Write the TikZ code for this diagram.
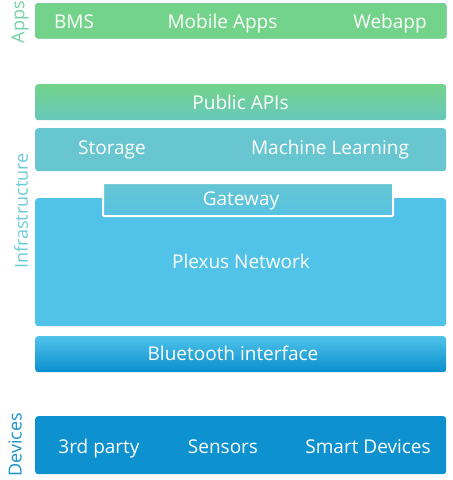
\documentclass[tikz,border=0pt]{standalone}
\usepackage{fontspec}
\setmainfont{Open Sans}
\definecolor{appgreen}{HTML}{73D38A}
\definecolor{apitop}{HTML}{73D38A}
\definecolor{apibot}{HTML}{67C8BD}
\definecolor{storecol}{HTML}{67C6CF}
\definecolor{gwtop}{HTML}{66C6D2}
\definecolor{gwbot}{HTML}{57C2E2}
\definecolor{plexcol}{HTML}{51C3E8}
\definecolor{bttop}{HTML}{4FC2EA}
\definecolor{btbot}{HTML}{0A8FCD}
\definecolor{devcol}{HTML}{0D91CF}
\definecolor{applabel}{HTML}{72D3A4}
\definecolor{infralabel}{HTML}{6CCBD6}
\definecolor{devlabel}{HTML}{1993D0}
\tikzset{
  layer/.style={rounded corners=3pt, inner sep=0pt, anchor=north west},
  txt/.style={text=white, font=\fontsize{19}{22}\selectfont, inner sep=0pt, anchor=base},
  side/.style={rotate=90, font=\fontsize{18}{21}\selectfont, inner sep=0pt}
}
\begin{document}
\begin{tikzpicture}[x=1pt,y=-1pt]
\useasboundingbox (0,0) rectangle (453,480);
% layers
\node[layer, fill=appgreen, draw=appgreen!85!teal, line width=0.6pt, minimum width=411pt, minimum height=35pt] (apps) at (35,3) {};
\node[layer, top color=apitop, bottom color=apibot, minimum width=411pt, minimum height=36pt] (api) at (35,84) {};
\node[layer, fill=storecol, minimum width=411pt, minimum height=43pt] (store) at (35,128) {};
\node[layer, fill=plexcol, minimum width=411pt, minimum height=128pt] (plexus) at (35,198) {};
\node[anchor=north west, inner sep=0pt, top color=gwtop, bottom color=gwbot, draw=white, line width=2pt, rounded corners=1pt, minimum width=290pt, minimum height=33pt] (gw) at (102,182) {};
\node[layer, top color=bttop, bottom color=btbot, minimum width=411pt, minimum height=36pt] (bt) at (35,336) {};
\node[layer, fill=devcol, minimum width=411pt, minimum height=58pt] (dev) at (35,416) {};
% texts
\node[txt] (bms) at (74,28) {BMS};
\node[txt] (mobile) at (222.5,28) {Mobile Apps};
\node[txt] (webapp) at (390,28) {Webapp};
\node[txt] (apitxt) at (240.5,109) {Public APIs};
\node[txt] (storage) at (112,154) {Storage};
\node[txt] (ml) at (330,154) {Machine Learning};
\node[txt] (gwtxt) at (241,205) {Gateway};
\node[txt] (plextxt) at (241,268.5) {Plexus Network};
\node[txt] (bttxt) at (233,360) {Bluetooth interface};
\node[txt] (third) at (99,453) {3rd party};
\node[txt] (sensors) at (223,453) {Sensors};
\node[txt] (smart) at (368,453) {Smart Devices};
% side labels
\node[side, text=applabel] (lapps) at (20,22) {Apps};
\node[side, text=infralabel] (linfra) at (21,211) {Infrastructure};
\node[side, text=devlabel] (ldev) at (15,445) {Devices};
\end{tikzpicture}
\end{document}
